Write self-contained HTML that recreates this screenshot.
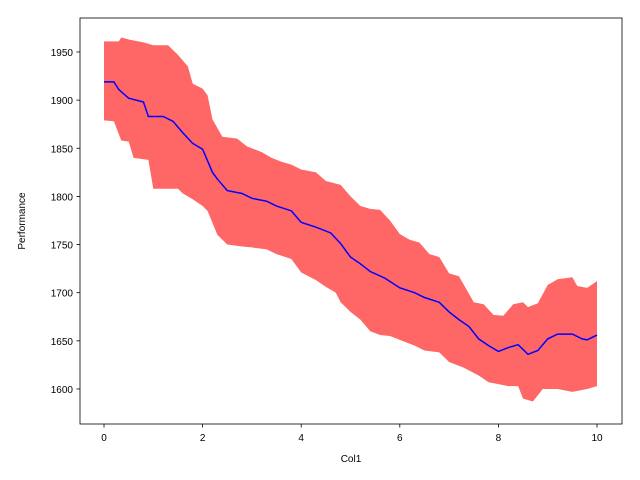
<!DOCTYPE html>
<html><head><meta charset="utf-8"><style>
body{margin:0;background:#fff}
svg{display:block;font-family:"Liberation Sans","DejaVu Sans",sans-serif}
</style></head><body>
<svg id="chart" width="640" height="480"></svg>
<script>
const meanX=[0,0.2,0.3,0.5,0.8,0.9,1.2,1.4,1.6,1.8,2.0,2.2,2.3,2.5,2.8,3.0,3.3,3.5,3.8,4.0,4.3,4.6,4.8,5.0,5.2,5.4,5.7,6.0,6.3,6.5,6.8,7.0,7.2,7.4,7.6,7.8,8.0,8.2,8.4,8.6,8.8,9.0,9.2,9.5,9.7,9.8,10];
const meanY=[1919,1919,1911,1902,1898,1883,1883,1878,1866,1855,1849,1825,1818,1806,1803,1798,1795,1790,1785,1773,1768,1762,1751,1737,1730,1722,1715,1705,1700,1695,1690,1680,1672,1665,1652,1645,1639,1643,1646,1636,1640,1652,1657,1657,1652,1651,1656];
const upX=[0,0.3,0.35,0.5,0.8,1.0,1.3,1.5,1.7,1.8,2.0,2.1,2.2,2.4,2.7,2.9,3.2,3.4,3.6,3.8,4.0,4.3,4.5,4.8,5.0,5.2,5.4,5.6,5.8,6.0,6.2,6.4,6.6,6.8,7.0,7.2,7.5,7.7,7.9,8.1,8.3,8.5,8.6,8.8,9.0,9.2,9.5,9.6,9.8,10];
const upY=[1961,1961,1965,1963,1960,1957,1957,1947,1935,1917,1912,1905,1880,1862,1860,1852,1846,1840,1836,1833,1828,1825,1816,1812,1800,1790,1787,1786,1775,1761,1755,1752,1740,1737,1720,1717,1690,1688,1677,1676,1688,1690,1685,1689,1708,1714,1716,1707,1705,1712];
const loX=[0,0.2,0.35,0.5,0.6,0.9,1.0,1.5,1.6,1.8,2.0,2.1,2.3,2.5,2.8,3.0,3.3,3.5,3.8,4.0,4.3,4.5,4.7,4.8,5.0,5.2,5.4,5.6,5.8,6.0,6.3,6.5,6.8,7.0,7.3,7.6,7.8,8.0,8.2,8.4,8.5,8.7,8.9,9.2,9.5,9.8,10];
const loY=[1879,1878,1858,1857,1840,1838,1808,1808,1803,1797,1790,1785,1760,1750,1748,1747,1745,1740,1735,1721,1713,1706,1700,1690,1680,1672,1660,1656,1655,1651,1645,1640,1638,1628,1622,1614,1607,1605,1603,1603,1590,1587,1600,1600,1597,1600,1603];
const xTicks=[0,2,4,6,8,10];
const yTicks=[1600,1650,1700,1750,1800,1850,1900,1950];

const L=80,R=622,T=18,B=424;
const xMin=-0.487,xMax=10.507,yMin=1563.6,yMax=1985.3;
const sx=v=>L+(v-xMin)/(xMax-xMin)*(R-L);
const sy=v=>B-(v-yMin)/(yMax-yMin)*(B-T);
const NS='http://www.w3.org/2000/svg';
const svg=document.getElementById('chart');
function mk(t,a){const e=document.createElementNS(NS,t);for(const k in a)e.setAttribute(k,a[k]);svg.appendChild(e);return e;}

let d='M'+upX.map((x,i)=>sx(x)+','+sy(upY[i])).join('L');
for(let i=loX.length-1;i>=0;i--)d+='L'+sx(loX[i])+','+sy(loY[i]);
const band=mk('path',{d:d+'Z',fill:'#ff6666',stroke:'none'});



const line=mk('polyline',{points:meanX.map((x,i)=>sx(x)+','+sy(meanY[i])).join(' '),fill:'none',stroke:'#0000ff','stroke-width':1.5});



const frame=mk('rect',{x:L,y:T,width:R-L,height:B-T,fill:'none',stroke:'#000','stroke-width':0.8});



xTicks.forEach(v=>{
  const x=sx(v);
  const tk=mk('line',{x1:x,x2:x,y1:B,y2:B+3.5,stroke:'#000','stroke-width':0.8});
  
  
  const t=mk('text',{x:x,y:B+17,'text-anchor':'middle','font-size':10,fill:'#000'});
  t.textContent=v;
  
  
});
yTicks.forEach(v=>{
  const y=sy(v);
  const tk=mk('line',{x1:L-3.5,x2:L,y1:y,y2:y,stroke:'#000','stroke-width':0.8});
  
  
  const t=mk('text',{x:L-7,y:y+4,'text-anchor':'end','font-size':10,fill:'#000'});
  t.textContent=v;
  
  
});
const xt=mk('text',{x:(L+R)/2,y:462,'text-anchor':'middle','font-size':10,fill:'#000'});
xt.textContent='Col1';


const yt=mk('text',{x:25,y:(T+B)/2,'text-anchor':'middle','font-size':10,fill:'#000',transform:'rotate(-90 25 '+((T+B)/2)+')'});
yt.textContent='Performance';


</script>
</body></html>
